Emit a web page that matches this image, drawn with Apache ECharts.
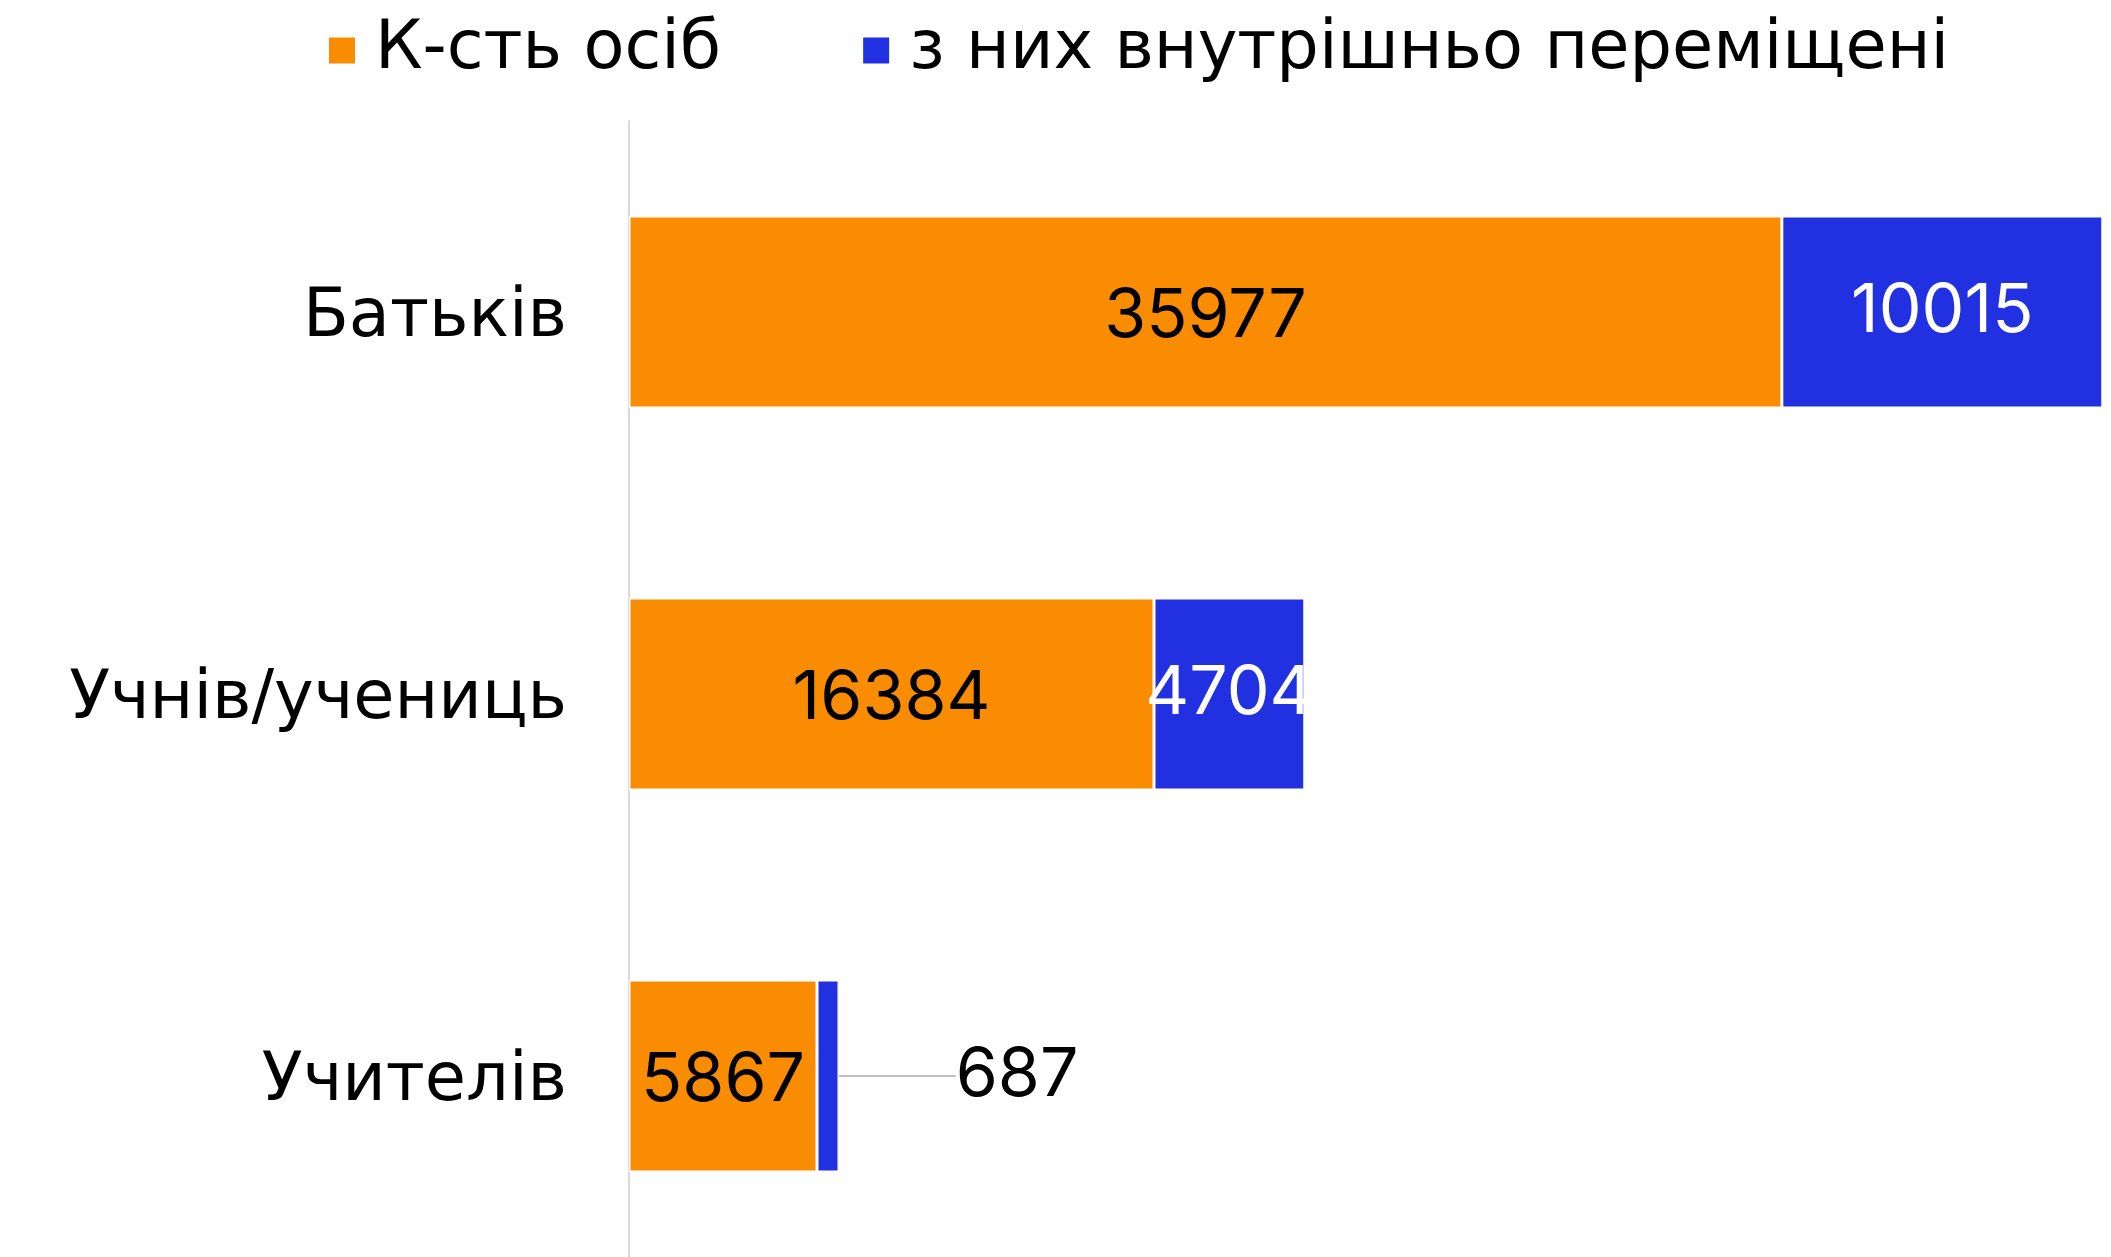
<!DOCTYPE html>
<html>
<head>
<meta charset="utf-8">
<script src="https://cdn.jsdelivr.net/npm/echarts@6/dist/echarts.min.js"></script>
<style>
  html, body { margin: 0; padding: 0; background: #fff; }
  #chart { width: 2111px; height: 1257px; }
</style>
</head>
<body>
<div id="chart"></div>
<script>
// категорії та значення
const categories = ["Батьків", "Учнів/учениць", "Учителів"];
const totalCount = [35977, 16384, 5867];
const displacedCount = [10015, 4704, 687];
const seriesNames = ["К-сть осіб", "з них внутрішньо переміщені"];

const FONT = "Inter, 'Noto Sans', sans-serif";
const WIDE_FONT = "'DejaVu Sans', Inter, sans-serif";

const chart = echarts.init(document.getElementById("chart"));
chart.setOption({
  animation: false,
  textStyle: { fontFamily: FONT },
  legend: {
    top: 12,
    left: 322,
    itemWidth: 28,
    itemHeight: 28,
    itemGap: 140,
    icon: "rect",
    textStyle: {
      fontSize: 67,
      color: "#000",
      fontFamily: WIDE_FONT,
      padding: [0, 0, 0, 14],
    },
    data: seriesNames,
  },
  grid: {
    left: 629,
    right: 8,
    top: 121,
    height: 1146,
    outerBoundsMode: "none",
    containLabel: false,
  },
  xAxis: {
    type: "value",
    min: 0,
    max: 46000,
    show: false,
  },
  yAxis: {
    type: "category",
    inverse: true,
    data: categories,
    axisTick: { show: false },
    axisLine: { lineStyle: { color: "#d9d9d9", width: 2 } },
    axisLabel: {
      margin: 62,
      formatter: (v) => "{t|" + v + "}",
      rich: {
        t: {
          fontSize: 67,
          color: "#000",
          fontFamily: WIDE_FONT,
          padding: [14, 0, 0, 0],
        },
      },
    },
  },
  series: [
    {
      name: seriesNames[0],
      type: "bar",
      stack: "total",
      barWidth: 192,
      data: totalCount,
      itemStyle: { color: "#F98C00", borderColor: "#fff", borderWidth: 1.5 },
      label: {
        show: true,
        position: "inside",
        offset: [0, 5],
        fontSize: 68,
        color: "#000",
        fontFamily: FONT,
      },
    },
    {
      name: seriesNames[1],
      type: "bar",
      stack: "total",
      barWidth: 192,
      data: displacedCount.map((v, i) =>
        // мала мітка — чорна, поза стовпчиком
        i === 2 ? { value: v, label: { color: "#000" } } : v
      ),
      itemStyle: { color: "#2130E0", borderColor: "#fff", borderWidth: 1.5 },
      label: {
        show: true,
        position: "inside",
        offset: [0, 5],
        fontSize: 68,
        color: "#fff",
        fontFamily: FONT,
      },
      labelLayout: function (params) {
        if (params.dataIndex === 2) {
          return { dx: 189, align: "center" };
        }
      },
      labelLine: { show: true, lineStyle: { color: "#aaa", width: 1.5 } },
    },
  ],
});
</script>
</body>
</html>
